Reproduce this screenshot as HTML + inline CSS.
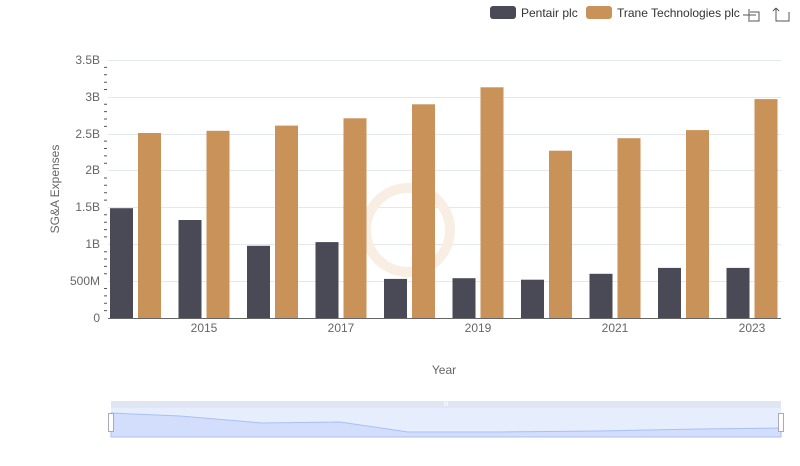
<!DOCTYPE html>
<html><head><meta charset="utf-8"><style>
body{margin:0;background:#fff;font-family:"Liberation Sans",sans-serif;}
svg text{font-family:"Liberation Sans",sans-serif;}
</style></head><body>
<svg width="800" height="461" xmlns="http://www.w3.org/2000/svg">
<g stroke="#e3e7ef" stroke-width="1">
<line x1="108" x2="781" y1="60.5" y2="60.5"/>
<line x1="108" x2="781" y1="97.5" y2="97.5"/>
<line x1="108" x2="781" y1="134.5" y2="134.5"/>
<line x1="108" x2="781" y1="170.5" y2="170.5"/>
<line x1="108" x2="781" y1="207.5" y2="207.5"/>
<line x1="108" x2="781" y1="244.5" y2="244.5"/>
<line x1="108" x2="781" y1="281.5" y2="281.5"/>
</g>
<path stroke="#555" stroke-width="1" d="M104 310.6h3M104 303.3h3M104 295.9h3M104 288.5h3M104 273.8h3M104 266.4h3M104 259h3M104 251.7h3M104 236.9h3M104 229.6h3M104 222.2h3M104 214.8h3M104 200.1h3M104 192.7h3M104 185.3h3M104 178h3M104 163.2h3M104 155.9h3M104 148.5h3M104 141.1h3M104 126.4h3M104 119h3M104 111.6h3M104 104.3h3M104 89.5h3M104 82.2h3M104 74.8h3M104 67.4h3"/>
<line x1="108" x2="781" y1="318.5" y2="318.5" stroke="#666"/>
<g font-size="12" fill="#666" text-anchor="end">
<text x="100" y="64">3.5B</text><text x="100" y="101">3B</text><text x="100" y="138">2.5B</text>
<text x="100" y="174">2B</text><text x="100" y="211">1.5B</text><text x="100" y="248">1B</text>
<text x="100" y="285">500M</text><text x="100" y="322">0</text>
</g>
<g font-size="12" fill="#666" text-anchor="middle">
<text x="204" y="332">2015</text><text x="341" y="332">2017</text><text x="478" y="332">2019</text>
<text x="615" y="332">2021</text><text x="752" y="332">2023</text>
<text x="444" y="374">Year</text>
</g>
<text transform="translate(59,189) rotate(-90)" font-size="12" fill="#666" text-anchor="middle">SG&amp;A Expenses</text>
<circle cx="408" cy="230" r="42" fill="none" stroke="#f8eee3" stroke-width="10"/>
<g fill="#4a4a57">
<rect x="110" y="208.2" width="23" height="109.8"/>
<rect x="178.5" y="220" width="23" height="98"/>
<rect x="247" y="245.8" width="23" height="72.2"/>
<rect x="315.5" y="242.1" width="23" height="75.9"/>
<rect x="384" y="278.9" width="23" height="39.1"/>
<rect x="452.5" y="278.2" width="23" height="39.8"/>
<rect x="521" y="279.7" width="23" height="38.3"/>
<rect x="589.5" y="273.8" width="23" height="44.2"/>
<rect x="658" y="267.9" width="23" height="50.1"/>
<rect x="726.5" y="267.9" width="23" height="50.1"/>
</g>
<g fill="#c89259">
<rect x="138" y="133" width="23" height="185"/>
<rect x="206.5" y="130.8" width="23" height="187.2"/>
<rect x="275" y="125.6" width="23" height="192.4"/>
<rect x="343.5" y="118.3" width="23" height="199.7"/>
<rect x="412" y="104.3" width="23" height="213.7"/>
<rect x="480.5" y="87.3" width="23" height="230.7"/>
<rect x="549" y="150.7" width="23" height="167.3"/>
<rect x="617.5" y="138.2" width="23" height="179.8"/>
<rect x="686" y="130.1" width="23" height="187.9"/>
<rect x="754.5" y="99.1" width="23" height="218.9"/>
</g>
<rect x="490" y="6" width="26" height="13" rx="3" fill="#4a4a57"/>
<text x="521" y="17" font-size="12" fill="#333">Pentair plc</text>
<rect x="586" y="6" width="26" height="13" rx="3" fill="#c89259"/>
<text x="617" y="17" font-size="12" fill="#333">Trane Technologies plc</text>
<g stroke="#555" fill="none" stroke-width="1">
<path d="M749 9v13M743 15h13M750 12h9v9h-9"/>
<path d="M776 8v13h13V12M776 8l-3 3M776 8l3 3"/>
</g>
<rect x="111" y="401" width="670" height="7" fill="#dfe5f2"/>
<rect x="111" y="408" width="670" height="29" fill="#e6edfc"/>
<path d="M111 413L180 416L262 423L340 422L408 432L500 432L600 431L700 429L781 428V437H111Z" fill="#d2defb" stroke="#a9c0f5"/>
<rect x="108.5" y="413.5" width="5" height="18" fill="#fff" stroke="#aab"/>
<rect x="778.5" y="413.5" width="5" height="18" fill="#fff" stroke="#aab"/>
<text x="446" y="406" font-size="6" fill="#fff" text-anchor="middle">III</text>
</svg>
</body></html>
